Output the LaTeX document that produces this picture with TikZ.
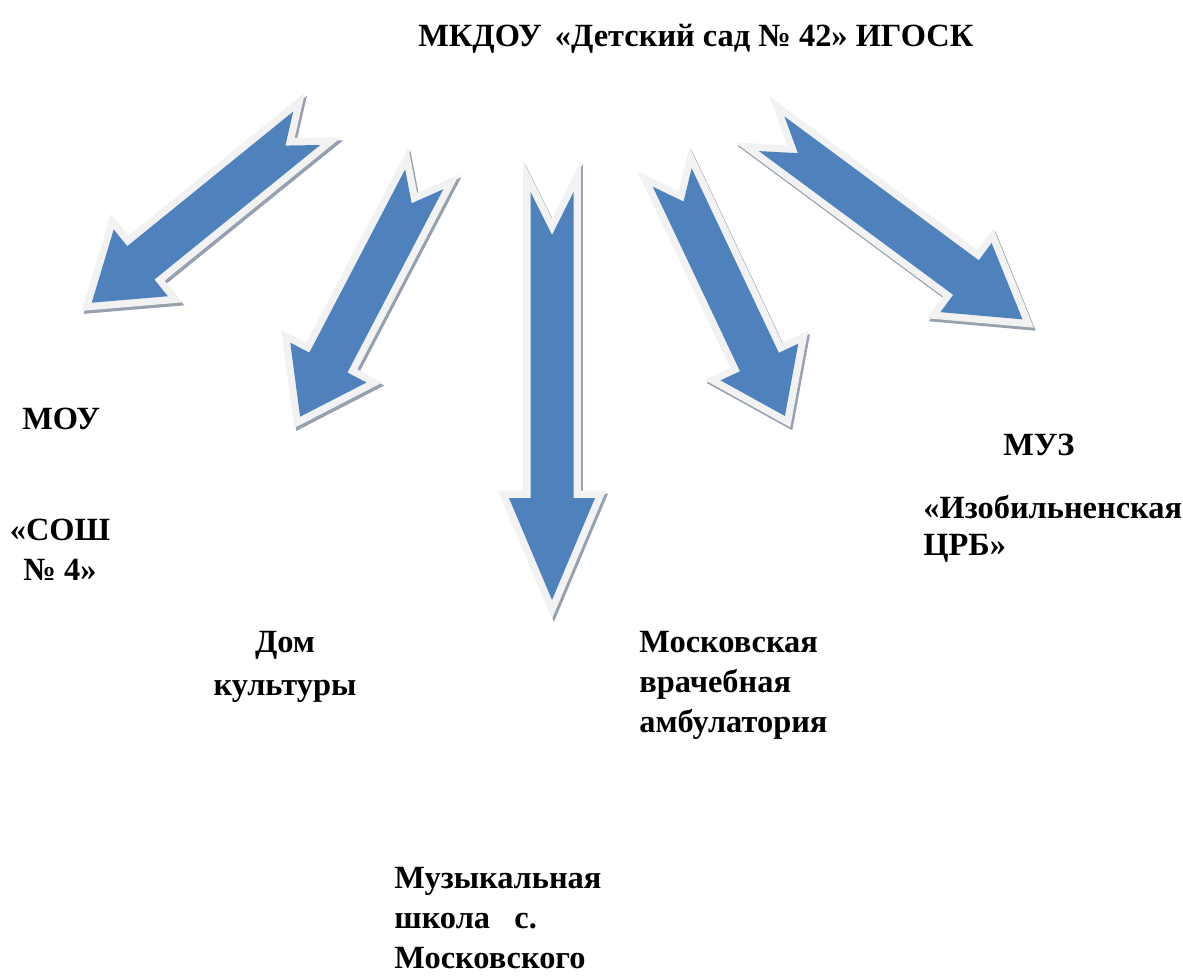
\documentclass[tikz,border=0pt]{standalone}
\usepackage{fontspec}
\setmainfont{Liberation Serif}
\usetikzlibrary{calc}
\definecolor{arrblue}{RGB}{79,129,189}
\definecolor{arrrim}{RGB}{242,242,242}
\definecolor{arrshade}{RGB}{150,160,175}
\tikzstyle{lbl}=[inner sep=0pt, font=\fontsize{16.2}{20}\selectfont\bfseries]
\tikzstyle{rim}=[line width=7.3pt, line join=miter, miter limit=10]
% notched block arrow: #1 tail, #2 angle, #3 length, #4 notch, #5 head length
\newcommand{\arrpath}[3]{(0,21.5) -- (#1-#3,21.5) -- (#1-#3,43) -- (#1,0) -- (#1-#3,-43) -- (#1-#3,-21.5) -- (0,-21.5) -- (#2,0) -- cycle}
\newcommand{\blockarr}[5]{%
  \begin{scope}[shift={(#1)},xshift=1pt,yshift=-1.5pt,rotate=#2]
    \filldraw[rim, draw=arrshade, fill=arrshade] \arrpath{#3}{#4}{#5};
  \end{scope}
  \begin{scope}[shift={(#1)},rotate=#2]
    \draw[rim, draw=arrrim] \arrpath{#3}{#4}{#5};
    \fill[arrblue] \arrpath{#3}{#4}{#5};
  \end{scope}}
\begin{document}
\begin{tikzpicture}[x=0.5pt,y=-0.5pt]
\useasboundingbox (0,0) rectangle (1183,976);

\node[lbl, anchor=base west] (title) at (418,46) {МКДОУ\hspace{0.4em}«Детский сад № 42» ИГОСК};

\blockarr{306.7,128.3}{219.05}{276.8}{27.4}{63.2}
\blockarr{424.2,179.3}{242.4}{267.9}{27.1}{61.1}
\blockarr{552,192}{270}{408}{43}{102}
\blockarr{672.2,177.5}{295.3}{263.8}{26.6}{59.7}
\blockarr{771.7,133.8}{323.5}{312}{32.6}{70.3}

% multi-line labels sit on the baseline of their last line
\node[lbl, anchor=base west] (mou) at (22,429) {МОУ};
\node[lbl, anchor=base, align=center] (sosh) at (60,580) {«СОШ\\№ 4»};
\node[lbl, anchor=base, align=center] (dom) at (285,695) {Дом\\[1.5pt]культуры};
\node[lbl, anchor=base west, align=left] (amb) at (639,732) {Московская\\врачебная\\амбулатория};
\node[lbl, anchor=base west, align=left] (music) at (394,968) {Музыкальная\\школа\hspace{0.75em}с.\\Московского};
\node[lbl, anchor=base west] (muz) at (1003,455) {МУЗ};
\node[lbl, anchor=base west, align=left] (crb) at (923,555) {«Изобильненская\\[-1.5pt]ЦРБ»};
\end{tikzpicture}
\end{document}
